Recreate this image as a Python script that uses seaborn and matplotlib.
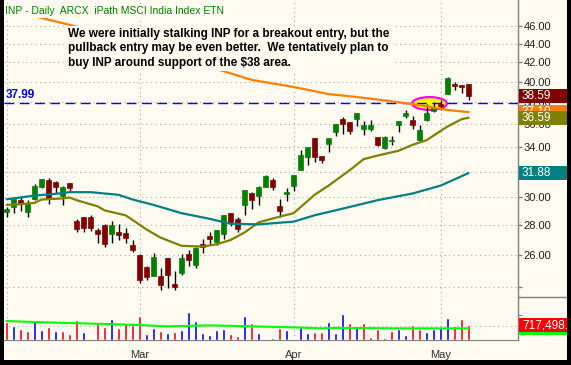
import numpy as np
import pandas as pd
import seaborn as sns
import matplotlib.pyplot as plt
from matplotlib.path import Path
from matplotlib.patches import Rectangle
from matplotlib.lines import Line2D
from matplotlib.transforms import Affine2D, IdentityTransform, blended_transform_factory
from matplotlib.ticker import NullLocator

sns.set_style('white')
plt.rcParams['font.family'] = ['Liberation Sans', 'DejaVu Sans']

# trading days (2009), Feb 16 and Apr 10 were market holidays
holidays = ['2009-02-16', '2009-04-10']
axis_days = pd.bdate_range('2009-02-02', '2009-05-20')
axis_days = axis_days[~axis_days.isin(pd.to_datetime(holidays))]
n_bars = 67

opens = [28.96, 29.33, 29.82, 28.96, 29.90, 30.80, 31.34, 31.18, 30.12, 31.08,
         28.32, 28.56, 28.56, 27.67, 28.00, 27.40, 27.55, 27.44, 26.66, 26.00,
         25.26, 24.70, 24.70, 25.79, 24.17, 24.85, 26.05, 25.36, 26.73, 27.29,
         26.83, 27.40, 28.84, 28.42, 29.45, 30.37, 30.12, 30.78, 31.34, 29.37,
         30.25, 30.88, 32.12, 33.15, 34.80, 33.28, 34.28, 35.27, 36.45, 36.18,
         36.48, 35.61, 35.61, 34.88, 33.93, 34.50, 35.94, 36.72, 36.39, 34.62,
         36.40, 37.20, 37.90, 38.85, 39.80, 39.65, 39.80]
highs = [29.33, 30.07, 30.12, 29.82, 31.03, 31.45, 31.50, 31.28, 30.85, 31.13,
         28.46, 28.56, 28.72, 27.79, 28.09, 28.30, 28.09, 27.79, 26.99, 26.05,
         25.30, 26.15, 25.15, 25.79, 24.99, 26.05, 26.33, 26.55, 27.04, 27.55,
         27.67, 28.72, 28.84, 28.59, 30.60, 30.40, 30.85, 31.70, 31.50, 29.90,
         30.70, 31.76, 33.77, 34.05, 34.80, 33.28, 34.80, 36.06, 36.65, 36.18,
         37.03, 36.30, 36.39, 34.88, 34.95, 34.94, 36.27, 37.30, 36.75, 35.94,
         37.90, 38.00, 38.24, 40.50, 39.95, 39.70, 39.80]
lows = [28.56, 28.89, 29.03, 28.60, 29.82, 30.75, 29.52, 30.30, 29.47, 30.42,
        27.55, 27.55, 27.58, 26.81, 26.55, 26.81, 26.99, 26.81, 26.22, 24.27,
        24.43, 24.70, 23.84, 23.93, 23.84, 24.74, 25.32, 25.15, 26.12, 26.66,
        26.66, 27.06, 27.97, 27.55, 28.70, 29.15, 29.45, 30.78, 30.57, 28.60,
        29.77, 30.50, 32.12, 32.53, 32.80, 32.67, 33.63, 34.96, 35.13, 35.13,
        35.88, 35.05, 35.43, 34.11, 33.88, 34.19, 35.31, 36.60, 35.56, 34.47,
        36.30, 37.10, 37.30, 38.85, 39.20, 38.90, 38.20]
closes = [29.13, 29.87, 29.58, 29.52, 30.88, 31.40, 29.87, 30.80, 30.80, 30.70,
          27.77, 27.81, 27.81, 27.40, 26.73, 28.00, 27.35, 27.13, 26.35, 24.43,
          24.64, 25.89, 24.10, 24.74, 24.03, 25.79, 25.68, 26.48, 26.51, 27.06,
          27.67, 28.72, 28.21, 27.75, 30.57, 29.82, 30.80, 31.65, 30.76, 29.00,
          30.40, 31.76, 33.35, 34.05, 33.18, 32.90, 34.80, 36.06, 36.06, 35.39,
          37.03, 35.94, 35.94, 34.19, 34.88, 34.60, 36.27, 37.06, 35.94, 35.49,
          37.00, 37.60, 37.65, 40.40, 39.55, 39.50, 38.59]

# volume in thousands of shares, 1 = up day (blue), 0 = down day (red)
volumes = [861, 669, 542, 430, 909, 478, 622, 430, 430, 287,
           956, 383, 48, 765, 622, 1004, 574, 765, 717, 1148,
           287, 574, 430, 335, 383, 478, 1339, 909, 335, 239,
           478, 526, 287, 191, 1148, 813, 335, 48, 96, 574,
           478, 48, 622, 335, 383, 383, 861, 335, 1243, 813,
           622, 813, 143, 526, 96, 430, 526, 239, 717, 526,
           383, 526, 574, 1052, 669, 1004, 717.498]
vol_up = [0, 1, 0, 0, 1, 1, 0, 1, 0, 0,
          0, 1, 0, 0, 0, 1, 0, 0, 0, 0,
          1, 1, 0, 1, 0, 1, 1, 1, 1, 1,
          1, 1, 0, 0, 1, 0, 1, 1, 0, 0,
          1, 1, 1, 1, 0, 0, 1, 1, 1, 0,
          1, 0, 0, 0, 1, 0, 1, 1, 0, 0,
          1, 1, 1, 1, 0, 0, 0]

# moving averages (bar index, value)
ma200_idx = [0, 3, 9, 15, 20, 25, 30, 35, 41, 46, 49, 54, 59, 63, 66]
ma200_val = [47.9, 47.3, 46.1, 44.8, 43.6, 42.4, 41.3, 40.2, 39.5, 38.8, 38.6, 38.2, 37.75, 37.3, 37.10]
ma20_idx = [0, 2, 4, 5, 8, 9, 10, 13, 14, 17, 18, 20, 22, 25, 28, 30, 32, 34, 36, 39,
            41, 44, 46, 49, 51, 53, 56, 58, 60, 63, 65, 66]
ma20_val = [29.45, 29.5, 29.6, 29.85, 29.93, 30.0, 29.8, 29.35, 29.05, 28.7, 28.37, 27.7,
            27.15, 26.6, 26.55, 26.7, 26.99, 27.5, 28.2, 28.6, 28.85, 30.2, 30.9, 32.1,
            33.0, 33.3, 33.7, 34.2, 34.6, 35.8, 36.45, 36.59]
ma50_idx = [0, 2, 4, 7, 9, 12, 14, 16, 18, 21, 25, 29, 32, 36, 41, 44, 49, 53, 58, 62, 66]
ma50_val = [29.87, 30.0, 30.15, 30.27, 30.4, 30.4, 30.3, 30.2, 29.85, 29.45, 28.85, 28.45,
            28.1, 28.06, 28.25, 28.7, 29.3, 29.8, 30.3, 30.9, 31.88]
vma_idx = [0, 4, 9, 16, 20, 23, 29, 35, 41, 45, 47, 56, 66]
vma_val = [909, 861, 813, 749, 701, 654, 701, 654, 606, 558, 580, 558, 558]

support = 37.99
title = 'INP - Daily  ARCX  iPath MSCI India Index ETN'
note = ('We were initially stalking INP for a breakout entry, but the\n'
        'pullback entry may be even better.  We tentatively plan to\n'
        'buy INP around support of the $38 area.')

cream = '#fffbf0'
grid_c = '#a8a8a8'
axis_c = '#808080'

W, H = 571, 365
fig = plt.figure(figsize=(W / 100, H / 100), dpi=100, facecolor=cream)


def frac(x0, y0, x1, y1):
    return [x0 / W, 1 - y1 / H, (x1 - x0) / W, (y1 - y0) / H]


ax = fig.add_axes(frac(4, 0, 518, 297))
axv = fig.add_axes(frac(4, 297, 518, 340), sharex=ax)
for a in (ax, axv):
    a.set_facecolor(cream)
    for s in ('top', 'left', 'bottom'):
        a.spines[s].set_visible(False)
    a.spines['right'].set_color(axis_c)
    a.spines['right'].set_linewidth(1)
axv.spines['bottom'].set_visible(True)
axv.spines['bottom'].set_color(axis_c)

x = np.arange(n_bars)
o, h, l, c = map(np.array, (opens, highs, lows, closes))
rising = c >= o
body_col = np.where(rising, '#008000', '#800000')

ax.set_yscale('log')
ax.set_ylim(23.42, 49.04)
ax.set_xlim(-0.37, 73.06)

# dotted grid
price_ticks = list(range(24, 47, 2))
for t in price_ticks:
    ax.axhline(t, color=grid_c, lw=0.8, ls=(0, (1, 3)), zorder=0)
month_pos = [0] + [i for i in range(1, len(axis_days))
                   if axis_days[i].month != axis_days[i - 1].month]
for mpos in month_pos:
    ax.axvline(mpos, color=grid_c, lw=0.8, ls=(0, (1, 3)), zorder=0)
    axv.axvline(mpos, color=grid_c, lw=0.8, ls=(0, (1, 3)), zorder=0)

# highlight around the support test
ell = Path.unit_circle().transformed(Affine2D().scale(1, 0.37))
ax.plot([60.4], [support], marker=ell, ms=25, mfc='#ffff00', mec='#ff00ff', mew=1.6,
        ls='none', zorder=1.5)
ax.axhline(support, color='#0000ff', lw=1, ls=(0, (7, 4)), zorder=2.5)

# candles
ax.vlines(x, l, h, color='black', lw=1, zorder=2)
ax.bar(x, np.abs(c - o), bottom=np.minimum(o, c), width=0.76, color=body_col,
       edgecolor=body_col, lw=0.5, zorder=3)

# moving averages
sns.lineplot(x=ma200_idx, y=ma200_val, ax=ax, color='#ff8000', lw=1.6, zorder=4)
sns.lineplot(x=ma20_idx, y=ma20_val, ax=ax, color='#808000', lw=1.6, zorder=4)
sns.lineplot(x=ma50_idx, y=ma50_val, ax=ax, color='#008080', lw=1.6, zorder=4)

ax.yaxis.tick_right()
ax.set_yticks(price_ticks)
ax.set_yticklabels(['' if t == 24 else f'{t:.2f}' for t in price_ticks])
ax.yaxis.set_minor_locator(NullLocator())
ax.tick_params(axis='y', direction='out', length=3, width=1, color=axis_c,
               labelsize=8, pad=1, labelcolor='#202020')
ax.tick_params(axis='x', bottom=False, labelbottom=False)
ax.set_xlabel('')
ax.set_ylabel('')

blend = blended_transform_factory(ax.transAxes, ax.transData)
ax.annotate('37.99', xy=(0, support), xycoords=blend, xytext=(1, 1.5), textcoords='offset points',
            color='#0000ff', fontsize=8.5, fontweight='bold', va='bottom', ha='left')

# volume
vol = np.array(volumes) * 1000
axv.bar(x, vol, width=0.45, color=np.where(np.array(vol_up) == 1, '#0000ff', '#ff0000'), zorder=2)
sns.lineplot(x=vma_idx, y=np.array(vma_val) * 1000, ax=axv, color='#00ff00', lw=1.5, zorder=3)
axv.set_ylim(0, 2.06e6)
axv.axhline(685000, color=grid_c, lw=0.8, ls=(0, (1, 3)), zorder=0)
axv.yaxis.tick_right()
axv.set_yticks([685000, 1200000])
axv.set_yticklabels([])
axv.tick_params(axis='y', direction='out', length=3, color=axis_c)
axv.set_xlabel('')
axv.set_ylabel('')

week_pos = [i for i in range(len(axis_days))
            if i == 0 or axis_days[i].isocalendar()[1] != axis_days[i - 1].isocalendar()[1]]
axv.set_xticks(month_pos)
axv.set_xticklabels(['' if axis_days[p].month == 2 else axis_days[p].strftime('%b') for p in month_pos])
axv.set_xticks(week_pos, minor=True)
axv.tick_params(axis='x', which='major', direction='out', length=6, width=1, color=axis_c,
                labelsize=8, pad=1, labelcolor='#303030')
axv.tick_params(axis='x', which='minor', direction='out', length=3, width=1, color=axis_c)
axv.set_xlim(-0.37, 73.06)

# title and comment boxes
fig.text(5 / W, 1 - 11 / H, title, color='#008000', fontsize=7.5, va='center', ha='left',
         bbox=dict(boxstyle='square,pad=0.15', fc=cream, ec='none'))
fig.text(68 / W, 1 - 28 / H, note, color='black', fontsize=8.5, fontweight='bold',
         va='top', ha='left', linespacing=1.27,
         bbox=dict(boxstyle='square,pad=0.2', fc=cream, ec='none'))

# value flags on the right scale, later flags drawn over earlier ones
fig.canvas.draw()
flag_z = [3]


def flag(axis, value, text, fc, tc='white'):
    yd = axis.transData.transform((0, value))[1]
    z = flag_z[0]
    fig.add_artist(Rectangle((519, yd - 7), 50, 14, transform=IdentityTransform(),
                             fc=fc, ec='none', zorder=z))
    fig.text(522 / W, yd / H, text, color=tc, fontsize=8.5, va='center', ha='left', zorder=z + 0.5)
    flag_z[0] += 1


flag(ax, closes[-1], f'{closes[-1]:.2f}', '#800000')
flag(ax, ma200_val[-1], f'{ma200_val[-1]:.2f}', '#ff8000')
flag(ax, ma20_val[-1], f'{ma20_val[-1]:.2f}', '#808000')
flag(ax, ma50_val[-1], f'{ma50_val[-1]:.2f}', '#008080')
flag(axv, vma_val[-1] * 1000, f'{vma_val[-1] * 1000:,.1f}', '#00ff00')
flag(axv, volumes[-1] * 1000, f'{volumes[-1] * 1000:,.1f}', '#ff0000')

fig.add_artist(Line2D([518 / W, 567 / W], [1 - 297 / H] * 2, color=axis_c, lw=1, zorder=20))

# dark frame edges
for rect in [(567 / W, 0, 4 / W, 1), (0, 0, 1, 5 / H), (0, 0, 4 / W, 1)]:
    fig.add_artist(Rectangle(rect[:2], rect[2], rect[3], transform=fig.transFigure,
                             fc='black', ec='none', zorder=30))

fig.savefig('out.png', dpi=100, facecolor=cream)
